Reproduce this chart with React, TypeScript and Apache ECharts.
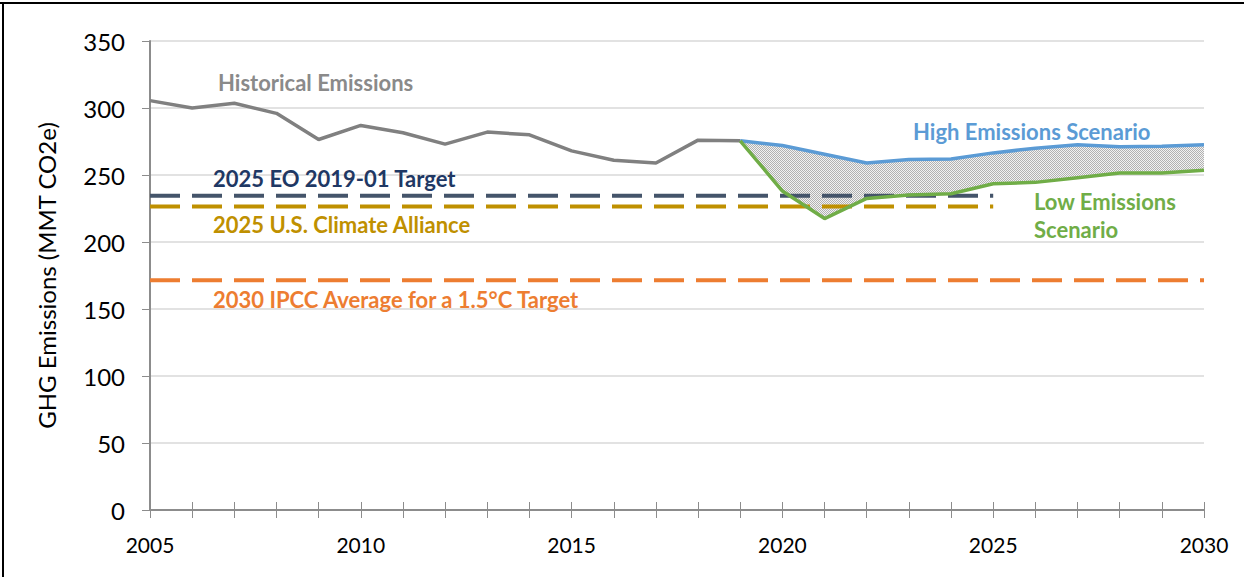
import React, { useEffect, useRef } from "react";
import * as echarts from "echarts";

const histYears = [2005, 2006, 2007, 2008, 2009, 2010, 2011, 2012, 2013, 2014, 2015, 2016, 2017, 2018, 2019];
const histValues = [305.5, 300, 303.5, 296, 276.5, 287, 281.5, 273, 282, 280, 268, 261, 259, 276, 275.5];

const scenYears = [2019, 2020, 2021, 2022, 2023, 2024, 2025, 2026, 2027, 2028, 2029, 2030];
const highValues = [275.5, 272, 265.5, 259, 261.5, 262, 266.5, 270, 272.5, 271, 271.5, 272.5];
const lowValues = [275.5, 238, 217.5, 232.5, 235, 236, 243.5, 244.5, 248, 251.5, 251.5, 253.5];

const eoTarget = { value: 234.5, from: 2005, to: 2025 };
const allianceTarget = { value: 226.5, from: 2005, to: 2025 };
const ipccTarget = { value: 171.5, from: 2005, to: 2030 };

const yTicks = [0, 50, 100, 150, 200, 250, 300, 350];
const xLabelStep = 5;

const FONT = "Lato, 'Open Sans', sans-serif";

export default function App() {
  const ref = useRef<HTMLDivElement>(null);
  useEffect(() => {
    document.body.style.margin = "0";
    const chart = echarts.init(ref.current!, null, { renderer: "svg" });

    const cv = document.createElement("canvas");
    cv.width = 2;
    cv.height = 2;
    const ctx = cv.getContext("2d")!;
    ctx.fillStyle = "#f2f2f2";
    ctx.fillRect(0, 0, 2, 2);
    ctx.fillStyle = "#b2b2b2";
    ctx.fillRect(0, 0, 1, 1);
    ctx.fillRect(1, 1, 1, 1);

    const dash = [30, 12];
    const targetLine = (t: { value: number; from: number; to: number }, color: string) => ({
      type: "line",
      data: [
        [t.from, t.value],
        [t.to, t.value],
      ],
      symbol: "none",
      z: 5,
      lineStyle: { color, width: 4, type: dash, cap: "butt" },
      silent: true,
    });

    const option: any = {
      animation: false,
      grid: { left: 150, right: 40, top: 41, bottom: 67, containLabel: false },
      xAxis: [
        {
          type: "value",
          min: 2005,
          max: 2030,
          interval: 1,
          position: "bottom",
          axisLine: { show: true, onZero: false, lineStyle: { color: "#8c8c8c", width: 2 } },
          axisTick: { show: true, length: 8, lineStyle: { color: "#8c8c8c", width: 1 } },
          axisLabel: {
            margin: 24,
            color: "#000",
            fontFamily: FONT,
            fontSize: 21,
            formatter: (v: number) => (v % xLabelStep === 0 ? String(v) : ""),
          },
          splitLine: { show: false },
        },
        {
          type: "value",
          min: 2005,
          max: 2030,
          interval: 1,
          position: "bottom",
          axisLine: { show: false, onZero: false },
          axisTick: { show: true, inside: true, length: 8, lineStyle: { color: "#8c8c8c", width: 1 } },
          axisLabel: { show: false },
          splitLine: { show: false },
        },
      ],
      yAxis: {
        type: "value",
        min: yTicks[0],
        max: yTicks[yTicks.length - 1],
        interval: 50,
        name: "GHG Emissions (MMT CO2e)",
        nameLocation: "middle",
        nameGap: 92,
        nameTextStyle: { color: "#000", fontFamily: FONT, fontSize: 24 },
        axisLine: { show: true, lineStyle: { color: "#8c8c8c", width: 2 } },
        axisTick: { show: true, length: 8, lineStyle: { color: "#8c8c8c", width: 1 } },
        axisLabel: { margin: 25, color: "#000", fontFamily: FONT, fontSize: 24 },
        splitLine: { show: true, lineStyle: { color: "#d9d9d9", width: 1.5 } },
      },
      series: [
        {
          type: "custom",
          name: "band",
          z: 1,
          silent: true,
          data: [[scenYears[0], highValues[0]]],
          renderItem: (_params: any, api: any) => {
            const top = scenYears.map((y, i) => api.coord([y, highValues[i]]));
            const bottom = scenYears.map((y, i) => api.coord([y, lowValues[i]])).reverse();
            return {
              type: "polygon",
              shape: { points: top.concat(bottom) },
              style: { fill: { image: cv, repeat: "repeat", imageWidth: 2, imageHeight: 2 } },
            };
          },
        },
        targetLine(eoTarget, "#44546a"),
        targetLine(allianceTarget, "#bf9000"),
        targetLine(ipccTarget, "#ed7d31"),
        {
          type: "line",
          name: "Historical Emissions",
          data: histYears.map((y, i) => [y, histValues[i]]),
          symbol: "none",
          z: 6,
          lineStyle: { color: "#808080", width: 3.5 },
        },
        {
          type: "line",
          name: "High Emissions Scenario",
          data: scenYears.map((y, i) => [y, highValues[i]]),
          symbol: "none",
          z: 6,
          lineStyle: { color: "#5b9bd5", width: 3.5 },
        },
        {
          type: "line",
          name: "Low Emissions Scenario",
          data: scenYears.map((y, i) => [y, lowValues[i]]),
          symbol: "none",
          z: 6,
          lineStyle: { color: "#70ad47", width: 3.5 },
        },
      ],
      graphic: [
        { type: "line", shape: { x1: 0, y1: 3, x2: 1244, y2: 3 }, style: { stroke: "#000", lineWidth: 2 }, z: 10 },
        { type: "line", shape: { x1: 3, y1: 3, x2: 3, y2: 577 }, style: { stroke: "#000", lineWidth: 2 }, z: 10 },
        { type: "text", x: 218, y: 82, style: { text: "Historical Emissions", fill: "#8a8a8a", font: `bold 22px ${FONT}`, verticalAlign: "middle" }, z: 10 },
        { type: "text", x: 213, y: 178, style: { text: "2025 EO 2019-01 Target", fill: "#1f3864", font: `bold 22px ${FONT}`, verticalAlign: "middle" }, z: 10 },
        { type: "text", x: 213, y: 224, style: { text: "2025 U.S. Climate Alliance", fill: "#bf9000", font: `bold 22px ${FONT}`, verticalAlign: "middle" }, z: 10 },
        { type: "text", x: 213, y: 299, style: { text: "2030 IPCC Average for a 1.5°C Target", fill: "#ed7d31", font: `bold 22px ${FONT}`, verticalAlign: "middle" }, z: 10 },
        { type: "text", x: 913, y: 131, style: { text: "High Emissions Scenario", fill: "#5b9bd5", font: `bold 22px ${FONT}`, verticalAlign: "middle" }, z: 10 },
        { type: "text", x: 1034, y: 201, style: { text: "Low Emissions", fill: "#70ad47", font: `bold 22px ${FONT}`, verticalAlign: "middle" }, z: 10 },
        { type: "text", x: 1034, y: 229, style: { text: "Scenario", fill: "#70ad47", font: `bold 22px ${FONT}`, verticalAlign: "middle" }, z: 10 },
      ],
    };
    chart.setOption(option);
    return () => chart.dispose();
  }, []);
  return <div ref={ref} style={{ width: 1244, height: 577 }} />;
}
